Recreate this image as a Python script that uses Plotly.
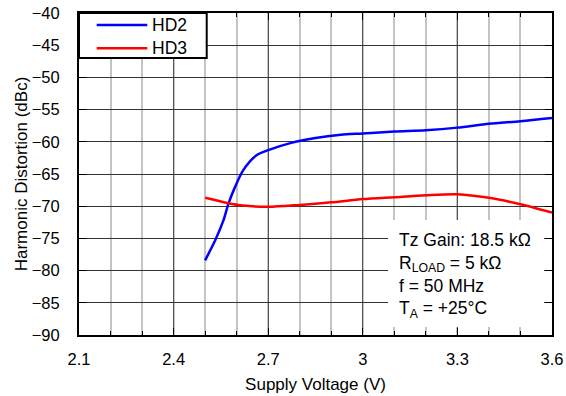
import plotly.graph_objects as go

# Supply voltage sweep (V) and harmonic distortion (dBc)
voltage_hd2 = [2.5, 2.532, 2.558, 2.574, 2.595, 2.621, 2.663, 2.70, 2.77, 2.85,
               2.93, 3.0, 3.1, 3.2, 3.3, 3.4, 3.5, 3.6]
hd2 = [-78.4, -75.3, -72.2, -69.6, -67.0, -64.4, -62.1, -61.3, -60.2, -59.4,
       -58.9, -58.7, -58.4, -58.2, -57.8, -57.2, -56.8, -56.3]

voltage_hd3 = [2.5, 2.57, 2.62, 2.7, 2.8, 2.9, 3.0, 3.1, 3.2, 3.3, 3.4, 3.5, 3.6]
hd3 = [-68.7, -69.5, -69.9, -70.1, -69.8, -69.4, -68.9, -68.6, -68.3, -68.15,
       -68.7, -69.7, -71.0]

series_names = ["HD2", "HD3"]
series_colors = ["#0000ff", "#ff0000"]

x_ticks = [2.1, 2.4, 2.7, 3.0, 3.3, 3.6]
x_tick_labels = ["2.1", "2.4", "2.7", "3", "3.3", "3.6"]
y_ticks = [-40, -45, -50, -55, -60, -65, -70, -75, -80, -85, -90]

conditions = [
    "Tz Gain: 18.5 k\u03a9",
    "R<sub>LOAD</sub> = 5 k\u03a9",
    "f = 50 MHz",
    "T<sub>A</sub> = +25\u00b0C",
]

FONT = "Liberation Sans, Arial, sans-serif"

fig = go.Figure()
for xs, ys, name, color in zip([voltage_hd2, voltage_hd3], [hd2, hd3],
                               series_names, series_colors):
    fig.add_trace(go.Scatter(x=xs, y=ys, name=name, mode="lines", showlegend=False,
                             line=dict(color=color, width=2.5, shape="spline",
                                       smoothing=0.8)))

# white panel behind the test conditions (stops short of the frame ticks)
fig.add_shape(type="rect", xref="x", yref="y", layer="above",
              x0=3.08, x1=3.575, y0=-88.76, y1=-72.14,
              fillcolor="white", line=dict(width=0))

fig.add_annotation(text="<br>".join(conditions), xref="paper", yref="paper",
                   x=0.672, y=0.186, xanchor="left", yanchor="middle",
                   align="left", showarrow=False,
                   font=dict(family=FONT, size=17.5, color="black"))

# legend panel in the upper-left corner
fig.add_shape(type="rect", xref="paper", yref="paper", layer="above",
              x0=0.0, x1=0.27, y0=0.860, y1=1.0,
              fillcolor="white", line=dict(color="black", width=2))
legend_y = [0.9627, 0.8904]
for name, color, ly in zip(series_names, series_colors, legend_y):
    fig.add_shape(type="line", xref="paper", yref="paper", layer="above",
                  x0=0.0374, x1=0.1444, y0=ly, y1=ly,
                  line=dict(color=color, width=2.5))
    fig.add_annotation(text=name, xref="paper", yref="paper", x=0.150, y=ly,
                       xanchor="left", yanchor="middle", showarrow=False,
                       font=dict(family=FONT, size=17.5, color="black"))

fig.update_layout(
    width=566, height=396,
    margin=dict(l=79, r=14, t=13, b=61, autoexpand=False),
    paper_bgcolor="white", plot_bgcolor="white",
    font=dict(family=FONT, size=16.5, color="black"),
    showlegend=False,
)

fig.update_xaxes(
    range=[2.1, 3.6], tickmode="array", tickvals=x_ticks, ticktext=x_tick_labels,
    showline=True, linecolor="black", linewidth=2, mirror="ticks",
    ticks="inside", ticklen=7, tickcolor="black", tickwidth=1,
    showgrid=True, gridcolor="#555555", gridwidth=1,
    minor=dict(dtick=0.1, tick0=2.1, showgrid=True, gridcolor="#c4c4c4", gridwidth=1.5,
               ticks="inside", ticklen=4, tickcolor="black"),
    zeroline=False, ticklabelstandoff=8, automargin=False,
    title=dict(text="Supply Voltage (V)", font=dict(size=17), standoff=11),
)
fig.update_yaxes(
    range=[-90, -40], tickmode="array", tickvals=y_ticks,
    showline=True, linecolor="black", linewidth=2, mirror="ticks",
    ticks="inside", ticklen=7, tickcolor="black", tickwidth=1,
    showgrid=True, gridcolor="#333333", gridwidth=1,
    zeroline=False, ticklabelstandoff=14, automargin=False,
    title=dict(text="Harmonic Distortion (dBc)", font=dict(size=17), standoff=0),
)

fig.write_html("out.html")
